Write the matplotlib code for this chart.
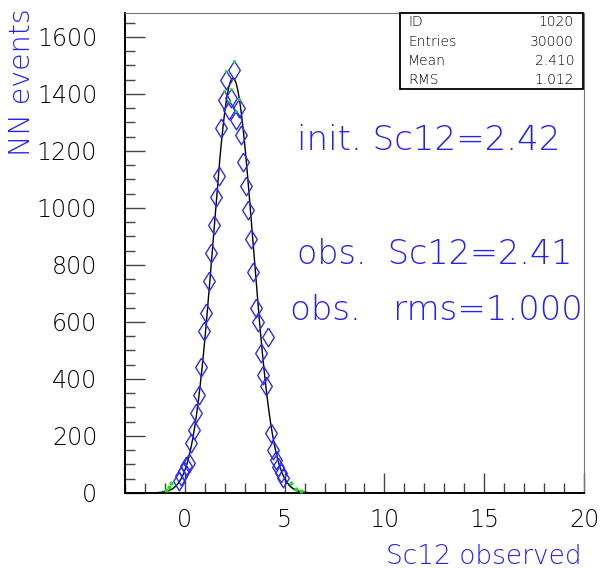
import matplotlib
matplotlib.use("Agg")
import matplotlib.pyplot as plt
import matplotlib.transforms as mtransforms
import numpy as np

plt.rcParams["font.family"] = ["DejaVu Sans"]
plt.rcParams["font.weight"] = "light"

# histogram bin centres (bin width 0.125) and contents shown with diamonds
bin_x = [-0.3125, -0.1875, -0.0625, 0.0625, 0.1875, 0.3125, 0.4375, 0.5625,
         0.6875, 0.8125, 0.9375, 1.0625, 1.1875, 1.3125, 1.4375, 1.5625,
         1.6875, 1.8125, 1.9375, 2.0625, 2.1875, 2.3125, 2.4375, 2.5625,
         2.6875, 2.8125, 2.9375, 3.0625, 3.1875, 3.3125, 3.4375, 3.5625,
         3.6875, 3.8125, 3.9375, 4.0625, 4.1875, 4.3125, 4.4375, 4.5625,
         4.6875, 4.8125, 4.9375]
bin_y = [42, 60, 78, 95, 105, 175, 221, 281,
         344, 442, 568, 632, 744, 842, 940, 1039,
         1112, 1281, 1379, 1449, 1344, 1386, 1484, 1309,
         1351, 1256, 1161, 1077, 993, 891, 775, 649,
         600, 491, 414, 375, 547, 211, 151, 116,
         91, 70, 53]

# tail bins drawn as small green points
tail_x = [-0.9375, -0.8125, -0.6875, 5.3125, 5.5625, 5.8125]
tail_y = [10, 20, 35, 35, 14, 6]

# gaussian fit
fit_amp = 1455
fit_mean = 2.41
fit_rms = 1.000

stats_names = ["ID", "Entries", "Mean", "RMS"]
stats_vals = ["1020", "30000", "2.410", "1.012"]

blue = "#2b2bff"
tblue = "#2020ff"
green = "#22dd22"

fig = plt.figure(figsize=(6.03, 5.68), dpi=100)
ax = fig.add_axes([125 / 603, 75 / 568, 459 / 603, 480 / 568])

xx = np.linspace(-3, 20, 1500)
gauss = fit_amp * np.exp(-0.5 * ((xx - fit_mean) / fit_rms) ** 2)
tails = (xx < fit_mean - 3.0 * fit_rms) | (xx > fit_mean + 2.8 * fit_rms)
ax.plot(np.where(tails, xx, np.nan), gauss, color=green, lw=1.0, zorder=1)
core = (xx > fit_mean - 4.3 * fit_rms) & (xx < fit_mean + 4.2 * fit_rms)
ax.plot(xx[core], gauss[core], color="black", lw=1.0, zorder=3)

diamond = [(0, 1), (0.62, 0), (0, -1), (-0.62, 0), (0, 1)]
ax.plot(bin_x, bin_y, linestyle="none", marker=diamond, markersize=13.5,
        mfc="none", mec=blue, mew=1.0, zorder=4)

# small green dots on top of the highest diamonds
top = [i for i, v in enumerate(bin_y) if v > 1300]
up = mtransforms.offset_copy(ax.transData, fig=fig, x=0, y=9, units="dots")
ax.plot([bin_x[i] for i in top], [bin_y[i] for i in top], linestyle="none",
        marker="o", markersize=1.2, color=green, transform=up, zorder=5)
ax.plot(tail_x, tail_y, linestyle="none", marker="o", markersize=2.0,
        color=green, zorder=5)

ax.set_xlim(-3, 20)
ax.set_ylim(0, 1684)
ax.set_xticks([0, 5, 10, 15, 20])
ax.set_xticks(np.arange(-3, 21, 1), minor=True)
ax.set_yticks(np.arange(0, 1601, 200))
ax.set_yticks(np.arange(0, 1684, 50), minor=True)
ax.tick_params(which="both", direction="in", top=False, right=False,
               color="#444444", width=1.0)
ax.tick_params(which="major", length=14.5, labelsize=17, labelcolor="black")
ax.tick_params(which="minor", length=7.5)
ax.tick_params(axis="y", which="major", pad=20)
ax.tick_params(axis="x", which="major", pad=11)
for side in ["left", "bottom"]:
    ax.spines[side].set_linewidth(1.4)
    ax.spines[side].set_color("black")
for side in ["top", "right"]:
    ax.spines[side].set_linewidth(0.8)
    ax.spines[side].set_color("#777777")

fig.text(22 / 603, 1 - 8 / 568, "NN events", rotation=90, color=tblue,
         fontsize=20.5, ha="center", va="top")
fig.text(582 / 603, 1 - 557 / 568, "Sc12 observed", color=tblue,
         fontsize=19, ha="right", va="center")

fig.text(297 / 603, 1 - 140 / 568, "init. Sc12=2.42", color=tblue,
         fontsize=24.5, ha="left", va="center")
fig.text(297 / 603, 1 - 255 / 568, "obs.  Sc12=2.41", color=tblue,
         fontsize=24, ha="left", va="center")
fig.text(290 / 603, 1 - 310 / 568, "obs.   rms=1.000", color=tblue,
         fontsize=24.5, ha="left", va="center")

# statistics box
bx0, bx1, by0, by1 = 400, 583, 13, 89
box = plt.Rectangle((bx0 / 603, 1 - by1 / 568), (bx1 - bx0) / 603,
                    (by1 - by0) / 568, transform=fig.transFigure,
                    fill=True, fc="white", ec="black", lw=1.3, zorder=10)
fig.patches.append(box)
row_y = [22, 42, 61, 80]
for name, val, ry in zip(stats_names, stats_vals, row_y):
    fig.text(408 / 603, 1 - ry / 568, name, fontsize=10, ha="left",
             va="center", color="black", zorder=11)
    fig.text(574 / 603, 1 - ry / 568, val, fontsize=10, ha="right",
             va="center", color="black", zorder=11)

fig.savefig("out.png", dpi=100)
